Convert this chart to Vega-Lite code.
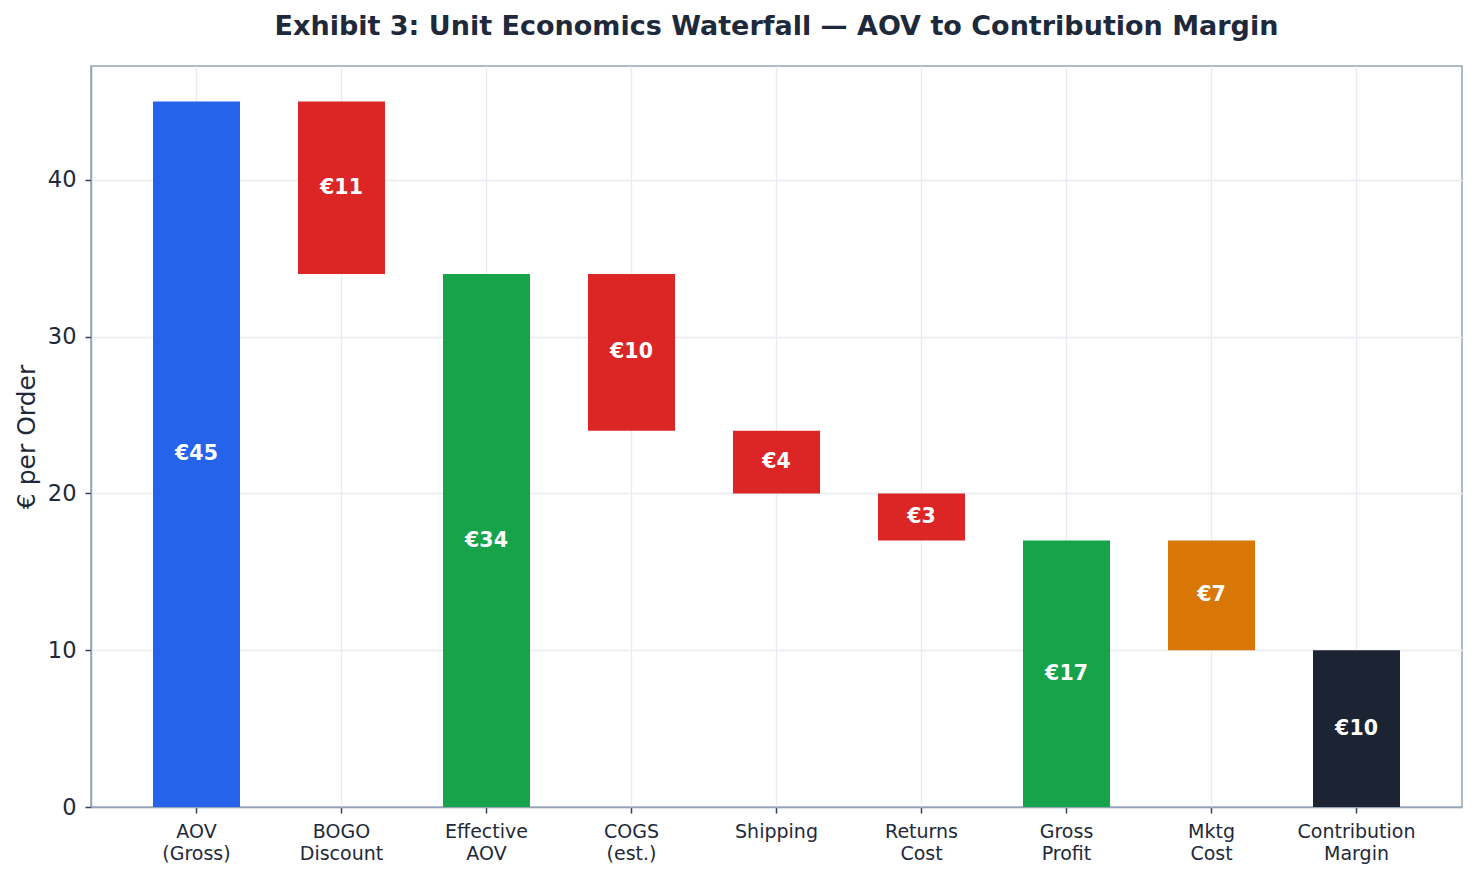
{
  "$schema": "https://vega.github.io/schema/vega-lite/v6.json",
  "autosize": {"type": "none"},
  "padding": {"left": 91, "top": 66, "right": 15, "bottom": 71},
  "width": 1371,
  "height": 741,
  "background": "white",
  "title": {
    "text": "Exhibit 3: Unit Economics Waterfall — AOV to Contribution Margin",
    "font": "DejaVu Sans",
    "fontSize": 27,
    "fontWeight": "bold",
    "color": "#1e293b",
    "anchor": "middle",
    "frame": "group",
    "baseline": "middle",
    "offset": 12
  },
  "config": {
    "font": "DejaVu Sans",
    "view": {"stroke": "#94a3b8", "strokeWidth": 1.5},
    "axis": {
      "domainColor": "#94a3b8",
      "domainWidth": 1.5,
      "tickColor": "#334155",
      "tickWidth": 1.5,
      "tickSize": 6,
      "gridColor": "#e8ecf1",
      "gridWidth": 1.3,
      "labelColor": "#1e293b",
      "titleColor": "#1e293b",
      "labelFont": "DejaVu Sans",
      "titleFont": "DejaVu Sans"
    }
  },
  "data": {
    "values": [
      {"step": "AOV|(Gross)", "start": 0, "end": 45, "label": "€45", "kind": "start"},
      {"step": "BOGO|Discount", "start": 34, "end": 45, "label": "€11", "kind": "neg"},
      {"step": "Effective|AOV", "start": 0, "end": 34, "label": "€34", "kind": "sub"},
      {"step": "COGS|(est.)", "start": 24, "end": 34, "label": "€10", "kind": "neg"},
      {"step": "Shipping", "start": 20, "end": 24, "label": "€4", "kind": "neg"},
      {"step": "Returns|Cost", "start": 17, "end": 20, "label": "€3", "kind": "neg"},
      {"step": "Gross|Profit", "start": 0, "end": 17, "label": "€17", "kind": "sub"},
      {"step": "Mktg|Cost", "start": 10, "end": 17, "label": "€7", "kind": "mktg"},
      {"step": "Contribution|Margin", "start": 0, "end": 10, "label": "€10", "kind": "final"}
    ]
  },
  "encoding": {
    "x": {
      "field": "step",
      "type": "nominal",
      "sort": null,
      "scale": {"paddingInner": 0.4, "paddingOuter": 0.4275},
      "axis": {
        "title": null,
        "labelAngle": 0,
        "labelFontSize": 19,
        "labelExpr": "split(datum.label, '|')",
        "labelLineHeight": 22,
        "labelPadding": 9,
        "labelBaseline": "top",
        "grid": true,
        "bandPosition": 0.5
      }
    }
  },
  "layer": [
    {
      "mark": {"type": "bar"},
      "encoding": {
        "y": {
          "field": "start",
          "type": "quantitative",
          "scale": {"domain": [0, 47.27], "nice": false},
          "axis": {
            "title": "€ per Order",
            "titleFontSize": 25,
            "titleFontWeight": "normal",
            "titlePadding": 8,
            "labelFontSize": 22.5,
            "labelPadding": 9,
            "values": [0, 10, 20, 30, 40],
            "grid": true
          }
        },
        "y2": {"field": "end"},
        "color": {
          "field": "kind",
          "type": "nominal",
          "scale": {
            "domain": ["start", "neg", "sub", "mktg", "final"],
            "range": ["#2563eb", "#dc2626", "#16a34a", "#d97706", "#1c2433"]
          },
          "legend": null
        }
      }
    },
    {
      "transform": [{"calculate": "(datum.start + datum.end) / 2", "as": "mid"}],
      "mark": {"type": "text", "color": "white", "fontWeight": "bold", "fontSize": 20.5, "baseline": "middle", "align": "center"},
      "encoding": {
        "y": {"field": "mid", "type": "quantitative"},
        "text": {"field": "label"}
      }
    }
  ]
}
